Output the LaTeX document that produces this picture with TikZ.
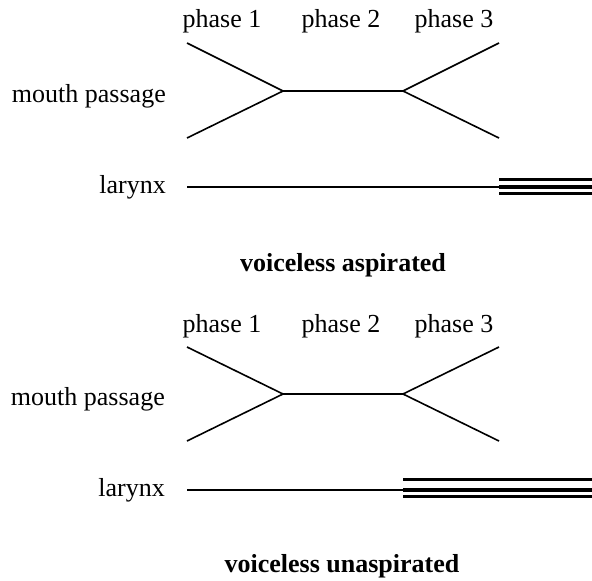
\documentclass[tikz,border=0pt]{standalone}
\usepackage{fontspec}
\setmainfont{Liberation Serif}
\begin{document}
\begin{tikzpicture}[x=1pt,y=-1pt,
  lbl/.style={inner sep=0pt,anchor=base,font=\fontsize{26}{30}\selectfont},
  rlbl/.style={lbl,anchor=base east},
  ttl/.style={lbl,font=\fontsize{26}{30}\selectfont\bfseries},
  mouth/.style={line width=1.6pt},
  lar/.style={line width=1.6pt},
  voiceo/.style={line width=2.6pt},
  voicem/.style={line width=4.6pt}]
\useasboundingbox (0,0) rectangle (592,581);
% ---- top: voiceless aspirated
\node[lbl] (p1a) at (222,27) {phase 1};
\node[lbl] (p2a) at (341,27) {phase 2};
\node[lbl] (p3a) at (454,27) {phase 3};
\node[rlbl] (mpa) at (166,102) {mouth passage};
\node[rlbl] (lxa) at (166,193) {larynx};
\coordinate (a1) at (187,43);
\coordinate (a2) at (187,138);
\coordinate (ja) at (283,91);
\coordinate (ka) at (403,91);
\coordinate (a3) at (499,43);
\coordinate (a4) at (499,138);
\draw[mouth] (a1) -- (ja) -- (ka) -- (a3);
\draw[mouth] (a2) -- (ja);
\draw[mouth] (ka) -- (a4);
\coordinate (la0) at (187,187);
\coordinate (la1) at (499,187);
\coordinate (la2) at (592,187);
\draw[lar] (la0) -- (la1);
\draw[voiceo] ([yshift=-6.5pt]la1) -- ([yshift=-6.5pt]la2);
\draw[voicem] (la1) -- (la2);
\draw[voiceo] ([yshift=7.5pt]la1) -- ([yshift=7.5pt]la2);
\node[ttl] (ta) at (343,271) {voiceless aspirated};
% ---- bottom: voiceless unaspirated
\node[lbl] (p1b) at (222,332) {phase 1};
\node[lbl] (p2b) at (341,332) {phase 2};
\node[lbl] (p3b) at (454,332) {phase 3};
\node[rlbl] (mpb) at (165,405) {mouth passage};
\node[rlbl] (lxb) at (165,496) {larynx};
\coordinate (b1) at (187,347);
\coordinate (b2) at (187,441);
\coordinate (jb) at (283,394);
\coordinate (kb) at (403,394);
\coordinate (b3) at (499,347);
\coordinate (b4) at (499,441);
\draw[mouth] (b1) -- (jb) -- (kb) -- (b3);
\draw[mouth] (b2) -- (jb);
\draw[mouth] (kb) -- (b4);
\coordinate (lb0) at (187,490);
\coordinate (lb1) at (403,490);
\coordinate (lb2) at (592,490);
\draw[lar] (lb0) -- (lb1);
\draw[voiceo] ([yshift=-6.5pt]lb1) -- ([yshift=-6.5pt]lb2);
\draw[voicem] (lb1) -- (lb2);
\draw[voiceo] ([yshift=10.5pt]lb1) -- ([yshift=10.5pt]lb2);
\node[ttl] (tb) at (342,572) {voiceless unaspirated};
\end{tikzpicture}
\end{document}
